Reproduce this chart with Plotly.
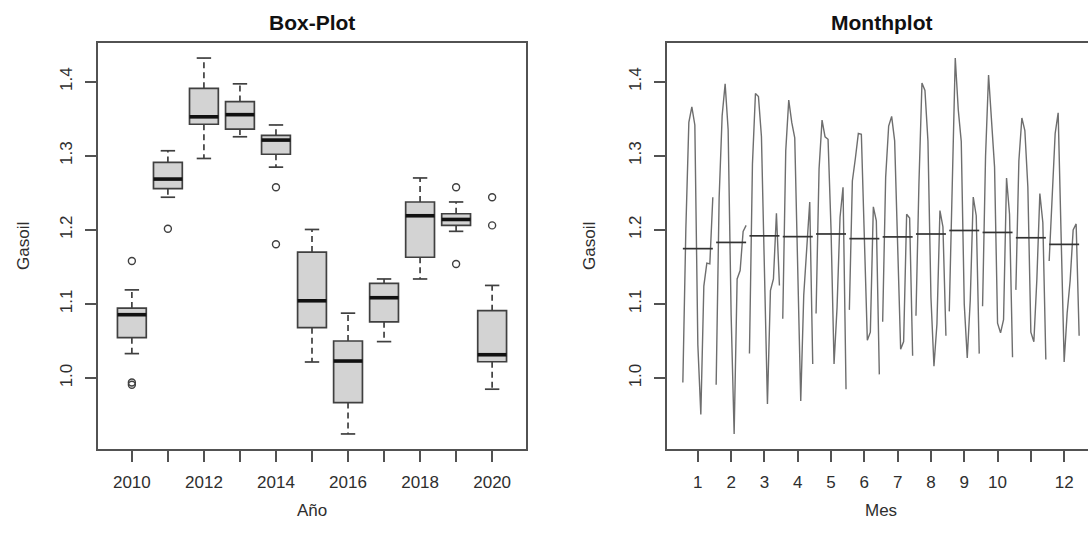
import math
import plotly.graph_objects as go

# Monthly gasoil prices (EUR/l), one list per year, January..December
gasoil_2010 = [0.994, 0.991, 1.033, 1.080, 1.087, 1.092, 1.076, 1.084, 1.090, 1.097, 1.119, 1.158]
gasoil_2011 = [1.2015, 1.244, 1.289, 1.3067, 1.282, 1.266, 1.271, 1.264, 1.259, 1.300, 1.293, 1.252]
gasoil_2012 = [1.345, 1.354, 1.384, 1.375, 1.348, 1.2963, 1.340, 1.398, 1.4318, 1.409, 1.351, 1.330]
gasoil_2013 = [1.366, 1.397, 1.380, 1.345, 1.3256, 1.330, 1.353, 1.388, 1.362, 1.338, 1.334, 1.3578]
gasoil_2014 = [1.3415, 1.335, 1.326, 1.324, 1.3222, 1.329, 1.3200, 1.3197, 1.3194, 1.2846, 1.2575, 1.1806]
gasoil_2015 = [1.045, 1.085, 1.135, 1.160, 1.2005, 1.195, 1.180, 1.1086, 1.100, 1.074, 1.062, 1.0217]
gasoil_2016 = [0.951, 0.9246, 0.965, 0.969, 1.019, 1.051, 1.039, 1.016, 1.027, 1.061, 1.049, 1.0876]
gasoil_2017 = [1.124, 1.1337, 1.118, 1.1118, 1.095, 1.062, 1.0492, 1.073, 1.105, 1.0788, 1.133, 1.1316]
gasoil_2018 = [1.155, 1.145, 1.1337, 1.171, 1.217, 1.231, 1.221, 1.226, 1.2442, 1.270, 1.249, 1.200]
gasoil_2019 = [1.154, 1.198, 1.2224, 1.2376, 1.2575, 1.212, 1.216, 1.204, 1.219, 1.221, 1.210, 1.208]
gasoil_2020 = [1.244, 1.206, 1.125, 1.019, 0.985, 1.005, 1.030, 1.057, 1.033, 1.028, 1.025, 1.057]

years = [2010, 2011, 2012, 2013, 2014, 2015, 2016, 2017, 2018, 2019, 2020]
year_tick_labels = ["2010", "", "2012", "", "2014", "", "2016", "", "2018", "", "2020"]
months = [1, 2, 3, 4, 5, 6, 7, 8, 9, 10, 11, 12]
month_tick_labels = ["1", "2", "3", "4", "5", "6", "7", "8", "9", "10", "", "12"]
y_ticks = [1.0, 1.1, 1.2, 1.3, 1.4]

series = [gasoil_2010, gasoil_2011, gasoil_2012, gasoil_2013, gasoil_2014, gasoil_2015,
          gasoil_2016, gasoil_2017, gasoil_2018, gasoil_2019, gasoil_2020]

W, H = 1088, 540
FONT = "Liberation Sans, Arial, sans-serif"
INK = "#2e2e2e"
FRAME = "#525252"


def fivenum(values):
    s = sorted(values)
    n = len(s)
    n4 = math.floor((n + 3) / 2) / 2
    d = [1, n4, (n + 1) / 2, n + 1 - n4, n]
    return [0.5 * (s[math.floor(k) - 1] + s[math.ceil(k) - 1]) for k in d]


def box_stats(values, coef=1.5):
    _, lo_h, med, hi_h, _ = fivenum(values)
    iqr = hi_h - lo_h
    lo_f, hi_f = lo_h - coef * iqr, hi_h + coef * iqr
    inside = [v for v in values if lo_f <= v <= hi_f]
    out = [v for v in values if v < lo_f or v > hi_f]
    return dict(q1=lo_h, med=med, q3=hi_h, wlo=min(inside), whi=max(inside), out=out)


stats = [box_stats(v) for v in series]

fig = go.Figure()

# ---- Box-Plot panel -------------------------------------------------------
fig.add_trace(go.Box(
    x=years,
    q1=[s["q1"] for s in stats],
    median=[s["med"] for s in stats],
    q3=[s["q3"] for s in stats],
    lowerfence=[s["q1"] for s in stats],
    upperfence=[s["q3"] for s in stats],
    width=0.8, whiskerwidth=0,
    fillcolor="#d3d3d3",
    line=dict(color="#404040", width=1.7),
    boxpoints=False, hoverinfo="skip",
    xaxis="x", yaxis="y", showlegend=False,
))

wx, wy, sx, sy, mx, my, ox, oy = [], [], [], [], [], [], [], []
for yr, s in zip(years, stats):
    wx += [yr, yr, None, yr, yr, None]
    wy += [s["q3"], s["whi"], None, s["q1"], s["wlo"], None]
    for w in (s["whi"], s["wlo"]):
        sx += [yr - 0.2, yr + 0.2, None]
        sy += [w, w, None]
    mx += [yr - 0.4, yr + 0.4, None]
    my += [s["med"], s["med"], None]
    for o in s["out"]:
        ox.append(yr)
        oy.append(o)

fig.add_trace(go.Scatter(x=wx, y=wy, mode="lines", xaxis="x", yaxis="y",
                         line=dict(color="#404040", width=1.7, dash="6px,4px"),
                         hoverinfo="skip", showlegend=False))
fig.add_trace(go.Scatter(x=sx, y=sy, mode="lines", xaxis="x", yaxis="y",
                         line=dict(color="#404040", width=1.7),
                         hoverinfo="skip", showlegend=False))
fig.add_trace(go.Scatter(x=mx, y=my, mode="lines", xaxis="x", yaxis="y",
                         line=dict(color="#111111", width=3.6),
                         hoverinfo="skip", showlegend=False))
fig.add_trace(go.Scatter(x=ox, y=oy, mode="markers", xaxis="x", yaxis="y",
                         marker=dict(symbol="circle-open", size=7,
                                     color="#404040", line=dict(width=1.4)),
                         hoverinfo="skip", showlegend=False))

# ---- Monthplot panel ------------------------------------------------------
n_years = len(years)
offsets = [-0.45 + 0.9 * j / (n_years - 1) for j in range(n_years)]
bx, by = [], []
for i, m in enumerate(months):
    vals = [s[i] for s in series]
    fig.add_trace(go.Scatter(
        x=[m + d for d in offsets], y=vals, mode="lines",
        line=dict(color="#6e6e6e", width=1.4),
        xaxis="x2", yaxis="y2", hoverinfo="skip", showlegend=False))
    mean = sum(vals) / len(vals)
    bx += [m - 0.45, m + 0.45, None]
    by += [mean, mean, None]
fig.add_trace(go.Scatter(x=bx, y=by, mode="lines", xaxis="x2", yaxis="y2",
                         line=dict(color="#333333", width=1.7),
                         hoverinfo="skip", showlegend=False))

# ---- Layout ---------------------------------------------------------------
y_dom = [(H - 449) / H, (H - 43) / H]
y_range = [0.9043, 1.4521]
axis_common = dict(showgrid=False, zeroline=False, showline=True, linecolor=FRAME,
                   linewidth=1.8, ticks="outside", ticklen=11, tickwidth=1.5,
                   tickcolor=FRAME, tickfont=dict(family=FONT, size=17, color=INK))

fig.update_layout(
    width=W, height=H, margin=dict(l=0, r=0, t=0, b=0),
    paper_bgcolor="white", plot_bgcolor="white", showlegend=False,
    xaxis=dict(domain=[98 / W, 526 / W], range=[2009.06, 2020.94], anchor="y",
               tickvals=years, ticktext=year_tick_labels, mirror=True,
               ticklabelstandoff=6, **axis_common),
    yaxis=dict(domain=y_dom, range=y_range, anchor="x",
               tickvals=y_ticks, ticktext=[f"{v:.1f}" for v in y_ticks],
               tickangle=-90, mirror=True, ticklabelstandoff=6, **axis_common),
    xaxis2=dict(domain=[667 / W, 1.0], range=[0.074, 12.716], anchor="y2",
                tickvals=months, ticktext=month_tick_labels, mirror=True,
                ticklabelstandoff=6, **axis_common),
    yaxis2=dict(domain=y_dom, range=y_range, anchor="x2",
                tickvals=y_ticks, ticktext=[f"{v:.1f}" for v in y_ticks],
                tickangle=-90, mirror=False, ticklabelstandoff=6, **axis_common),
)

labels = [
    dict(text="<b>Box-Plot</b>", x=312, y=22, size=21),
    dict(text="<b>Monthplot</b>", x=881, y=22, size=21),
    dict(text="Año", x=312, y=510, size=17),
    dict(text="Mes", x=881, y=510, size=17),
]
for lab in labels:
    fig.add_annotation(text=lab["text"], xref="paper", yref="paper",
                       x=lab["x"] / W, y=1 - lab["y"] / H, showarrow=False,
                       xanchor="center", yanchor="middle",
                       font=dict(family=FONT, size=lab["size"],
                                 color="#111111" if lab["size"] > 18 else INK))
for xpix in (24, 590):
    fig.add_annotation(text="Gasoil", xref="paper", yref="paper",
                       x=xpix / W, y=1 - 246 / H, showarrow=False, textangle=-90,
                       xanchor="center", yanchor="middle",
                       font=dict(family=FONT, size=17, color=INK))

fig.write_html("out.html")
